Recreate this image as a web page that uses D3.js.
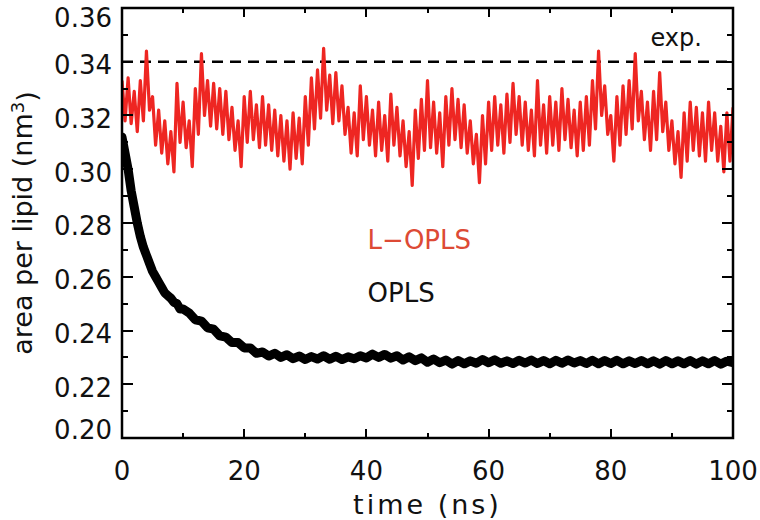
<!DOCTYPE html>
<head>
<meta charset="utf-8">
<title>area per lipid</title>
<style>
    body { margin: 0; background: white; }
    svg text { font-family: "DejaVu Sans", sans-serif; }
    .tick-label { font-size: 26px; fill: #111; }
    .axis-title { font-size: 27px; fill: #111; }
    .frame { fill: none; stroke: #000; stroke-width: 2.5px; }
    .tick { stroke: #000; stroke-width: 2.2px; shape-rendering: crispEdges; }
</style>
</head>
<body>
<svg></svg>
<script src="https://cdn.jsdelivr.net/npm/d3@7"></script>
<script>

    // ticks
    var xTicks = [0, 20, 40, 60, 80, 100];
    var xMinor = [10, 30, 50, 70, 90];
    var yTicks = [0.20, 0.22, 0.24, 0.26, 0.28, 0.30, 0.32, 0.34, 0.36];
    var yMinor = [0.21, 0.23, 0.25, 0.27, 0.29, 0.31, 0.33, 0.35];

    var expValue = 0.34;

    // L-OPLS, every 0.5 ns from 0 to 100
    var lopls = [
        0.333, 0.318, 0.334, 0.317, 0.329, 0.314, 0.333, 0.318, 0.344, 0.322,
        0.327, 0.309, 0.322, 0.306, 0.318, 0.302, 0.314, 0.299, 0.332, 0.310,
        0.325, 0.308, 0.318, 0.301, 0.330, 0.313, 0.343, 0.320, 0.333, 0.316,
        0.332, 0.315, 0.330, 0.313, 0.329, 0.311, 0.323, 0.307, 0.318, 0.301,
        0.327, 0.310, 0.329, 0.311, 0.324, 0.308, 0.327, 0.309, 0.324, 0.307,
        0.322, 0.305, 0.320, 0.303, 0.318, 0.300, 0.321, 0.304, 0.319, 0.302,
        0.327, 0.309, 0.334, 0.315, 0.337, 0.319, 0.345, 0.322, 0.335, 0.317,
        0.336, 0.318, 0.331, 0.313, 0.323, 0.306, 0.321, 0.305, 0.331, 0.311,
        0.327, 0.309, 0.322, 0.305, 0.325, 0.307, 0.320, 0.303, 0.328, 0.309,
        0.323, 0.305, 0.318, 0.301, 0.314, 0.294, 0.322, 0.304, 0.326, 0.307,
        0.333, 0.308, 0.325, 0.306, 0.321, 0.301, 0.327, 0.309, 0.330, 0.311,
        0.326, 0.308, 0.324, 0.306, 0.318, 0.302, 0.313, 0.295, 0.320, 0.302,
        0.325, 0.307, 0.327, 0.309, 0.324, 0.306, 0.328, 0.310, 0.332, 0.313,
        0.327, 0.309, 0.325, 0.307, 0.322, 0.305, 0.333, 0.309, 0.324, 0.306,
        0.327, 0.309, 0.325, 0.307, 0.330, 0.311, 0.326, 0.308, 0.322, 0.305,
        0.325, 0.307, 0.327, 0.309, 0.333, 0.315, 0.344, 0.320, 0.331, 0.313,
        0.320, 0.303, 0.327, 0.309, 0.331, 0.313, 0.333, 0.315, 0.343, 0.318,
        0.329, 0.311, 0.325, 0.307, 0.329, 0.311, 0.336, 0.314, 0.325, 0.307,
        0.318, 0.302, 0.314, 0.297, 0.321, 0.303, 0.325, 0.307, 0.323, 0.305,
        0.321, 0.303, 0.325, 0.307, 0.321, 0.303, 0.316, 0.299, 0.321, 0.303,
        0.323
    ];
    var loplsTime = d3.range(0, 100.01, 0.5);

    // OPLS, 0.5 ns steps up to 10 ns, then 1 ns
    var opls = [
        0.312, 0.306, 0.300, 0.292, 0.286, 0.280, 0.275, 0.271, 0.268, 0.265,
        0.262, 0.260, 0.258, 0.256, 0.254, 0.253, 0.252, 0.2505, 0.250, 0.248,
        0.248, 0.2465, 0.244, 0.2435, 0.241, 0.2405, 0.238, 0.2375, 0.2355, 0.2355,
        0.2335, 0.2335, 0.2315, 0.232, 0.2305, 0.2315, 0.2300, 0.2310, 0.2295, 0.2305,
        0.2292, 0.2303, 0.2294, 0.2306, 0.2293, 0.2304, 0.2292, 0.2302, 0.2295, 0.2306,
        0.2298, 0.2312, 0.2300, 0.2311, 0.2297, 0.2306, 0.2290, 0.2302, 0.2288, 0.2298,
        0.2282, 0.2294, 0.2280, 0.2290, 0.2275, 0.2288, 0.2276, 0.2287, 0.2278, 0.2292,
        0.2280, 0.2291, 0.2278, 0.2287, 0.2277, 0.2289, 0.2279, 0.2290, 0.2277, 0.2288,
        0.2276, 0.2289, 0.2278, 0.2290, 0.2279, 0.2288, 0.2277, 0.2289, 0.2276, 0.2288,
        0.2277, 0.2289, 0.2276, 0.2287, 0.2277, 0.2288, 0.2276, 0.2287, 0.2275, 0.2288,
        0.2276, 0.2287, 0.2276, 0.2288, 0.2275, 0.2287, 0.2276, 0.2288, 0.2275, 0.2286,
        0.2280
    ];
    var oplsTime = d3.range(0, 10, 0.5).concat(d3.range(10, 100.01, 1));

    var svg = d3.select("svg")
        .attr("width", 760)
        .attr("height", 520);

    var margin = {top: 8, right: 27, bottom: 82, left: 122},
        width = 760 - margin.left - margin.right,
        height = 520 - margin.top - margin.bottom;

    var g = svg.append("g")
        .attr("transform", "translate(" + margin.left + "," + margin.top + ")");

    var x = d3.scaleLinear().domain([0, 100]).range([0, width]);
    var y = d3.scaleLinear().domain([0.20, 0.36]).range([height, 0]);

    g.append("clipPath").attr("id", "clip")
        .append("rect").attr("width", width).attr("height", height);

    var plot = g.append("g").attr("clip-path", "url(#clip)");

    // experimental value
    plot.append("line")
        .attr("x1", x(0)).attr("x2", x(100))
        .attr("y1", y(expValue)).attr("y2", y(expValue))
        .attr("stroke", "#000")
        .attr("stroke-width", 2.6)
        .attr("stroke-dasharray", "11,7");

    var line = d3.line()
        .x(function (d) { return x(d.t); })
        .y(function (d) { return y(d.v); });

    plot.append("path")
        .datum(lopls.map(function (v, i) { return {t: loplsTime[i], v: v}; }))
        .attr("fill", "none")
        .attr("stroke", "#ee2622")
        .attr("stroke-width", 3.2)
        .attr("stroke-linejoin", "round")
        .attr("d", line);

    plot.append("path")
        .datum(opls.map(function (v, i) { return {t: oplsTime[i], v: v}; }))
        .attr("fill", "none")
        .attr("stroke", "#000")
        .attr("stroke-width", 9)
        .attr("stroke-linejoin", "round")
        .attr("stroke-linecap", "round")
        .attr("d", line);

    // frame
    g.append("rect")
        .attr("class", "frame")
        .attr("width", width)
        .attr("height", height);

    // inward ticks on all four sides
    function yTick(vals, len) {
        g.selectAll(null).data(vals).enter().append("line")
            .attr("class", "tick")
            .attr("x1", 0).attr("x2", len)
            .attr("y1", function (d) { return Math.round(y(d)); })
            .attr("y2", function (d) { return Math.round(y(d)); });
        g.selectAll(null).data(vals).enter().append("line")
            .attr("class", "tick")
            .attr("x1", width).attr("x2", width - len)
            .attr("y1", function (d) { return Math.round(y(d)); })
            .attr("y2", function (d) { return Math.round(y(d)); });
    }

    function xTick(vals, len) {
        g.selectAll(null).data(vals).enter().append("line")
            .attr("class", "tick")
            .attr("y1", height).attr("y2", height - len)
            .attr("x1", function (d) { return Math.round(x(d)); })
            .attr("x2", function (d) { return Math.round(x(d)); });
        g.selectAll(null).data(vals).enter().append("line")
            .attr("class", "tick")
            .attr("y1", 0).attr("y2", len)
            .attr("x1", function (d) { return Math.round(x(d)); })
            .attr("x2", function (d) { return Math.round(x(d)); });
    }

    yTick(yTicks.slice(1, -1), 11);
    yTick(yMinor, 6);
    xTick(xTicks.slice(1, -1), 9);
    xTick(xMinor, 5);

    // tick labels (end labels pulled inside the frame height, like the original)
    var yMax = yTicks[yTicks.length - 1], yMin = yTicks[0];
    g.selectAll(".ylab").data(yTicks).enter().append("text")
        .attr("class", "tick-label")
        .attr("x", -10)
        .attr("y", function (d) {
            if (d === yMax) return y(d) + 10;
            if (d === yMin) return y(d) - 8;
            return y(d) + 3;
        })
        .attr("dy", "0.36em")
        .attr("text-anchor", "end")
        .text(function (d) { return d3.format(".2f")(d); });

    g.selectAll(".xlab").data(xTicks).enter().append("text")
        .attr("class", "tick-label")
        .attr("x", function (d) { return x(d); })
        .attr("y", height + 42)
        .attr("text-anchor", "middle")
        .text(function (d) { return d; });

    // axis titles
    g.append("text")
        .attr("class", "axis-title")
        .attr("x", width / 2)
        .attr("y", height + 76)
        .attr("text-anchor", "middle")
        .attr("font-size", "28px")
        .attr("letter-spacing", "3px")
        .text("time (ns)");

    var yt = g.append("text")
        .attr("class", "axis-title")
        .attr("transform", "translate(" + (-margin.left + 32) + "," + (height / 2) + ") rotate(-90)")
        .attr("text-anchor", "middle");
    yt.append("tspan").text("area per lipid (nm");
    yt.append("tspan").attr("dy", "-0.45em").attr("font-size", "18px").text("3");
    yt.append("tspan").attr("dy", "0.45em").text(")");

    // annotations
    g.append("text")
        .attr("x", x(86.5))
        .attr("y", y(expValue) - 16)
        .attr("font-size", "24px")
        .attr("fill", "#111")
        .text("exp.");

    g.append("text")
        .attr("x", x(40.2))
        .attr("y", y(0.2705))
        .attr("font-size", "26px")
        .attr("fill", "#dd4a35")
        .text("L\u2212OPLS");

    g.append("text")
        .attr("x", x(40.2))
        .attr("y", y(0.2505))
        .attr("font-size", "26px")
        .attr("fill", "#111")
        .text("OPLS");

</script>
</body>
